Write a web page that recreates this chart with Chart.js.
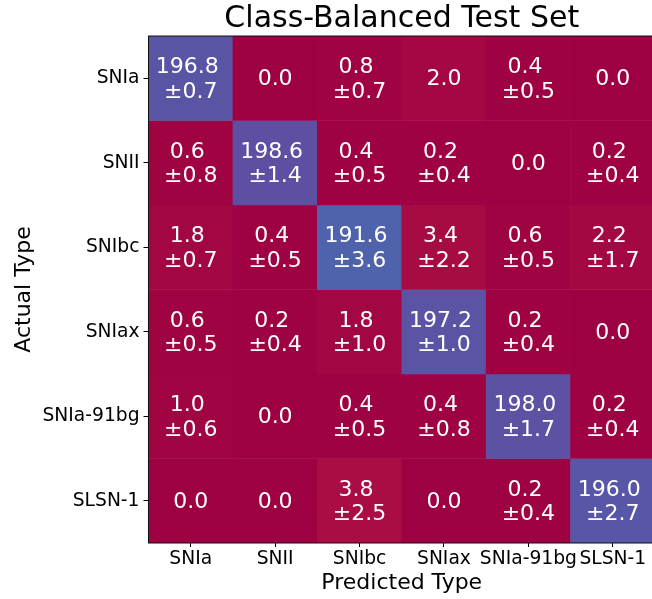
<!DOCTYPE html>
<html>
<head>
<meta charset="utf-8">
<title>Class-Balanced Test Set</title>
<script src="https://cdn.jsdelivr.net/npm/chart.js@4.4.1/dist/chart.umd.min.js"></script>
<style>
  html, body { margin: 0; padding: 0; background: #fff; overflow: hidden; }
  #wrap { width: 660px; height: 599px; }
</style>
</head>
<body>
<div id="wrap"><canvas id="cm"></canvas></div>
<script>
const predictedTypes = ["SNIa", "SNII", "SNIbc", "SNIax", "SNIa-91bg", "SLSN-1"];
const actualTypes = ["SNIa", "SNII", "SNIbc", "SNIax", "SNIa-91bg", "SLSN-1"];

// mean counts per actual type (row), one value per predicted type (column)
const meanSNIa   = [196.8, 0.0, 0.8, 2.0, 0.4, 0.0];
const meanSNII   = [0.6, 198.6, 0.4, 0.2, 0.0, 0.2];
const meanSNIbc  = [1.8, 0.4, 191.6, 3.4, 0.6, 2.2];
const meanSNIax  = [0.6, 0.2, 1.8, 197.2, 0.2, 0.0];
const mean91bg   = [1.0, 0.0, 0.4, 0.4, 198.0, 0.2];
const meanSLSN   = [0.0, 0.0, 3.8, 0.0, 0.2, 196.0];

// standard deviations (0 = not shown)
const stdSNIa    = [0.7, 0, 0.7, 0, 0.5, 0];
const stdSNII    = [0.8, 1.4, 0.5, 0.4, 0, 0.4];
const stdSNIbc   = [0.7, 0.5, 3.6, 2.2, 0.5, 1.7];
const stdSNIax   = [0.5, 0.4, 1.0, 1.0, 0.4, 0];
const std91bg    = [0.6, 0, 0.5, 0.8, 1.7, 0.4];
const stdSLSN    = [0, 0, 2.5, 0, 0.4, 2.7];

const rowMeans = [meanSNIa, meanSNII, meanSNIbc, meanSNIax, mean91bg, meanSLSN];
const rowStds = [stdSNIa, stdSNII, stdSNIbc, stdSNIax, std91bg, stdSLSN];

// matplotlib "Spectral" colour stops
const spectral = [
  [158, 1, 66], [213, 62, 79], [244, 109, 67], [253, 174, 97], [254, 224, 139],
  [255, 255, 191], [230, 245, 152], [171, 221, 164], [102, 194, 165], [50, 136, 189], [94, 79, 162]
];

function cmap(t) {
  t = Math.max(0, Math.min(1, t));
  const p = t * (spectral.length - 1);
  const i = Math.min(spectral.length - 2, Math.floor(p));
  const f = p - i;
  const a = spectral[i], b = spectral[i + 1];
  const c = a.map((v, k) => Math.round(v + (b[k] - v) * f));
  return `rgb(${c[0]},${c[1]},${c[2]})`;
}

const vmax = Math.max(...rowMeans.flat());
const font = "DejaVu Sans";

const datasets = actualTypes.map((name, r) => ({
  label: name,
  data: predictedTypes.map(() => [r, r + 1]),
  backgroundColor: rowMeans[r].map(v => cmap(v / vmax))
}));

// ---------------- CELL LABELS + FRAME ----------------
const cellText = {
  id: "cellText",
  afterDatasetsDraw(chart) {
    const ctx = chart.ctx;
    ctx.save();
    ctx.fillStyle = "#fff";
    ctx.font = `22px "${font}"`;
    ctx.textAlign = "center";
    ctx.textBaseline = "alphabetic";

    chart.data.datasets.forEach((ds, r) => {
      chart.getDatasetMeta(r).data.forEach((bar, c) => {
        const cx = bar.x;
        const cy = (bar.y + bar.base) / 2;
        const m = rowMeans[r][c].toFixed(1);
        const s = rowStds[r][c];
        if (s > 0) {
          ctx.fillText(m + " ", cx, cy - 5.2);
          ctx.fillText("±" + s.toFixed(1), cx, cy + 19.3);
        } else {
          ctx.fillText(m, cx, cy + 7);
        }
      });
    });

    const a = chart.chartArea;
    ctx.strokeStyle = "#111";
    ctx.lineWidth = 1;
    ctx.strokeRect(a.left, a.top, a.right - a.left, a.bottom - a.top);
    ctx.restore();
  }
};

new Chart(document.getElementById("cm"), {
  type: "bar",
  data: { labels: predictedTypes, datasets: datasets },
  plugins: [cellText],
  options: {
    responsive: true,
    maintainAspectRatio: false,
    animation: false,
    layout: { padding: { left: 0, right: 5, top: 0, bottom: 0 } },
    datasets: {
      bar: { barPercentage: 1, categoryPercentage: 1, grouped: false, borderWidth: 0 }
    },
    plugins: {
      legend: { display: false },
      tooltip: { enabled: false },
      title: {
        display: true,
        fullSize: false,
        text: "Class-Balanced Test Set",
        color: "#000",
        font: { family: font, size: 30, weight: "normal", lineHeight: 1.1 },
        padding: { top: 3, bottom: 0 }
      }
    },
    scales: {
      x: {
        type: "category",
        offset: true,
        border: { display: false },
        grid: { offset: false, drawOnChartArea: false, drawTicks: true, tickLength: 4, color: "#000" },
        ticks: {
          autoSkip: false, maxRotation: 0, minRotation: 0, padding: 1,
          color: "#000", font: { family: font, size: 18.7 }
        },
        title: {
          display: true, text: "Predicted Type", color: "#000",
          font: { family: font, size: 22 }, padding: { top: 0, bottom: 2.5 }
        },
        afterFit: s => { s.height = 56; }
      },
      y: {
        type: "linear",
        min: 0,
        max: 6,
        reverse: true,
        border: { display: false },
        afterBuildTicks: s => { s.ticks = actualTypes.map((_, i) => ({ value: i + 0.5 })); },
        grid: { drawOnChartArea: false, drawTicks: true, tickLength: 5, color: "#000" },
        ticks: {
          padding: 4, color: "#000", font: { family: font, size: 18.7 },
          callback: v => actualTypes[Math.floor(v)]
        },
        title: {
          display: true, text: "Actual Type", color: "#000",
          font: { family: font, size: 22 }, padding: { top: 11, bottom: 0 }
        },
        afterFit: s => { s.width = 148.5; }
      }
    }
  }
});
</script>
</body>
</html>
